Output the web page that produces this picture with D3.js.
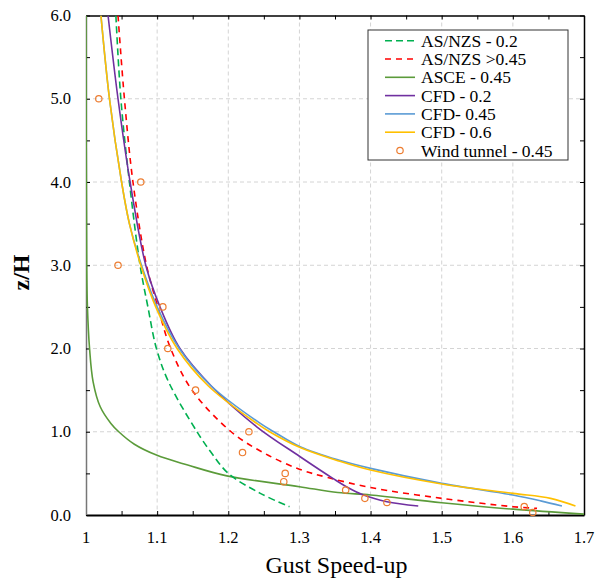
<!DOCTYPE html>
<html>
<head>
<meta charset="utf-8">
<script src="https://cdn.jsdelivr.net/npm/d3@7"></script>
<style>
  body { margin: 0; background: #fff; }
  text { font-family: "Liberation Serif", "Times New Roman", serif; }
</style>
</head>
<body>
<svg class="chart"></svg>
<script>
// series: gust speed-up (x) against z/H (y)
var asnzs02Z = [6, 5, 4, 3, 2.5, 2, 1.6, 1.0, 0.75, 0.5, 0.26, 0.1];
var asnzs02V = [1.042, 1.049, 1.061, 1.076, 1.087, 1.099, 1.116, 1.156, 1.176, 1.200, 1.245, 1.286];

var asnzs045Z = [6, 5, 4, 3, 2.5, 2, 1.5, 1.0, 0.75, 0.55, 0.45, 0.33, 0.2, 0.1, 0.08];
var asnzs045V = [1.045, 1.054, 1.066, 1.085, 1.101, 1.119, 1.149, 1.204, 1.249, 1.300, 1.340, 1.400, 1.500, 1.600, 1.634];

var asceZ = [6, 3, 2.5, 2, 1.6, 1.3, 1.1, 1.0, 0.85, 0.72, 0.6, 0.47, 0.34, 0.27, 0.24, 0.148, 0.07, 0.01];
var asceV = [1.0, 1.001, 1.002, 1.005, 1.01, 1.02, 1.035, 1.046, 1.068, 1.099, 1.143, 1.198, 1.300, 1.354, 1.400, 1.500, 1.600, 1.700];

var cfd02Z = [6, 5, 4, 3, 2.5, 2, 1.55, 1.06, 0.7, 0.44, 0.34, 0.24, 0.16, 0.108];
var cfd02V = [1.031, 1.045, 1.062, 1.084, 1.104, 1.132, 1.176, 1.240, 1.301, 1.347, 1.366, 1.390, 1.423, 1.467];

var cfd045Z = [6, 5, 4, 3.5, 3, 2.5, 2, 1.55, 1.1, 1.0, 0.82, 0.66, 0.56, 0.38, 0.24, 0.17, 0.108];
var cfd045V = [1.021, 1.033, 1.050, 1.061, 1.078, 1.100, 1.131, 1.176, 1.245, 1.264, 1.301, 1.355, 1.400, 1.500, 1.600, 1.639, 1.669];

var cfd06Z = [6, 5, 4, 3.5, 3, 2.5, 2, 1.55, 1.1, 1.0, 0.81, 0.65, 0.54, 0.373, 0.26, 0.2, 0.108];
var cfd06V = [1.021, 1.033, 1.050, 1.061, 1.077, 1.098, 1.128, 1.172, 1.240, 1.258, 1.301, 1.355, 1.400, 1.500, 1.600, 1.653, 1.688];

var tunnelZ = [5.0, 4.0, 3.0, 2.5, 2.0, 1.5, 1.0, 0.75, 0.5, 0.4, 0.3, 0.2, 0.15, 0.1, 0.03];
var tunnelV = [1.018, 1.077, 1.045, 1.108, 1.115, 1.154, 1.229, 1.220, 1.280, 1.278, 1.365, 1.392, 1.423, 1.616, 1.628];

var xTicks = [1, 1.1, 1.2, 1.3, 1.4, 1.5, 1.6, 1.7];
var yTicks = [0, 1, 2, 3, 4, 5, 6];

var width = 596, height = 581;
var plotLeft = 86, plotRight = 584, plotTop = 15.5, plotBottom = 515;

var svg = d3.select(".chart")
	.attr("width", width)
	.attr("height", height);

var x = d3.scaleLinear().domain([1, 1.7]).range([plotLeft, plotRight]);
var y = d3.scaleLinear().domain([0, 6]).range([plotBottom, plotTop]);

// grid
var grid = svg.append("g")
	.attr("stroke", "#d4d4d4")
	.attr("stroke-width", 1)
	.attr("stroke-dasharray", "4,3");

grid.selectAll("line.gx")
	.data(xTicks.slice(1, -1))
	.enter().append("line")
		.attr("class", "gx")
		.attr("x1", function(d) { return x(d); })
		.attr("x2", function(d) { return x(d); })
		.attr("y1", plotTop)
		.attr("y2", plotBottom);

grid.selectAll("line.gy")
	.data(yTicks.slice(1, -1))
	.enter().append("line")
		.attr("class", "gy")
		.attr("x1", plotLeft)
		.attr("x2", plotRight)
		.attr("y1", function(d) { return y(d); })
		.attr("y2", function(d) { return y(d); });

// axes with inward ticks
var minorX = d3.range(1, 1.7001, 0.05);
var minorY = d3.range(0, 6.001, 0.5);

svg.append("g")
	.attr("transform", "translate(0," + plotBottom + ")")
	.call(d3.axisBottom(x).tickValues(minorX).tickSize(-4).tickSizeOuter(0).tickFormat(""))
	.call(function(g) { g.select(".domain").attr("stroke-width", 2); });

svg.append("g")
	.attr("transform", "translate(0," + plotTop + ")")
	.call(d3.axisTop(x).tickValues(minorX).tickSize(-4).tickSizeOuter(0).tickFormat(""))
	.call(function(g) { g.select(".domain").attr("stroke-width", 1.5); });

svg.append("g")
	.attr("transform", "translate(" + plotLeft + ",0)")
	.call(d3.axisLeft(y).tickValues(minorY).tickSize(-4).tickSizeOuter(0).tickFormat(""))
	.call(function(g) { g.select(".domain").attr("stroke", "#777").attr("stroke-width", 1.5); });

svg.append("g")
	.attr("transform", "translate(" + plotRight + ",0)")
	.call(d3.axisRight(y).tickValues(minorY).tickSize(-4).tickSizeOuter(0).tickFormat(""))
	.call(function(g) { g.select(".domain").attr("stroke-width", 1.5); });

// tick labels
svg.append("g").selectAll("text")
	.data(xTicks)
	.enter().append("text")
		.attr("x", function(d) { return x(d); })
		.attr("y", 542.5)
		.attr("text-anchor", "middle")
		.attr("font-size", 16.5)
		.text(function(d) { return d3.format("")(d); });

svg.append("g").selectAll("text")
	.data(yTicks)
	.enter().append("text")
		.attr("x", 71)
		.attr("y", function(d) { return y(d) + 5.5; })
		.attr("text-anchor", "end")
		.attr("font-size", 16.5)
		.text(function(d) { return d3.format(".1f")(d); });

svg.append("text")
	.attr("x", 336.5)
	.attr("y", 572.5)
	.attr("text-anchor", "middle")
	.attr("font-size", 24)
	.text("Gust Speed-up");

svg.append("text")
	.attr("transform", "translate(28.5,272.5) rotate(-90)")
	.attr("text-anchor", "middle")
	.attr("font-size", 24)
	.attr("font-weight", "bold")
	.text("z/H");

// curves
svg.append("clipPath")
	.attr("id", "plot")
	.append("rect")
		.attr("x", plotLeft)
		.attr("y", plotTop)
		.attr("width", plotRight - plotLeft)
		.attr("height", plotBottom - plotTop);

var series = [
	{ name: "AS/NZS - 0.2", z: asnzs02Z, v: asnzs02V, color: "#00b050", dash: "7,4" },
	{ name: "AS/NZS >0.45", z: asnzs045Z, v: asnzs045V, color: "#ff0000", dash: "6,5" },
	{ name: "ASCE - 0.45", z: asceZ, v: asceV, color: "#5b9b3a", dash: null },
	{ name: "CFD - 0.2", z: cfd02Z, v: cfd02V, color: "#7030a0", dash: null },
	{ name: "CFD- 0.45", z: cfd045Z, v: cfd045V, color: "#5b9bd5", dash: null },
	{ name: "CFD - 0.6", z: cfd06Z, v: cfd06V, color: "#ffc000", dash: null }
];

var line = d3.line()
	.x(function(d) { return x(d[0]); })
	.y(function(d) { return y(d[1]); })
	.curve(d3.curveCatmullRom.alpha(0.5));

var drawOrder = [2, 0, 1, 3, 4, 5];

svg.append("g")
	.attr("clip-path", "url(#plot)")
	.selectAll("path")
	.data(drawOrder.map(function(i) { return series[i]; }))
	.enter().append("path")
		.attr("fill", "none")
		.attr("stroke", function(d) { return d.color; })
		.attr("stroke-width", 1.6)
		.attr("stroke-dasharray", function(d) { return d.dash; })
		.attr("d", function(d) {
			var pts = d.z.map(function(z, i) { return [d.v[i], z]; });
			pts.sort(function(a, b) { return b[1] - a[1]; });
			return line(pts);
		});

// wind tunnel points
svg.append("g")
	.selectAll("circle")
	.data(tunnelZ.map(function(z, i) { return [tunnelV[i], z]; }))
	.enter().append("circle")
		.attr("cx", function(d) { return x(d[0]); })
		.attr("cy", function(d) { return y(d[1]); })
		.attr("r", 3.2)
		.attr("fill", "none")
		.attr("stroke", "#ed7d31")
		.attr("stroke-width", 1.2);

// legend
var legend = svg.append("g");

legend.append("rect")
	.attr("x", 368)
	.attr("y", 30)
	.attr("width", 200)
	.attr("height", 130)
	.attr("fill", "#fff")
	.attr("stroke", "#333")
	.attr("stroke-width", 1);

var rowY = function(i) { return 40.7 + i * 18.3; };

var entries = legend.selectAll("g.entry")
	.data(series)
	.enter().append("g")
		.attr("class", "entry")
		.attr("transform", function(d, i) { return "translate(0," + rowY(i) + ")"; });

entries.append("line")
	.attr("x1", 385)
	.attr("x2", 415)
	.attr("stroke", function(d) { return d.color; })
	.attr("stroke-width", 1.6)
	.attr("stroke-dasharray", function(d) { return d.dash; });

entries.append("text")
	.attr("x", 421)
	.attr("y", 6)
	.attr("font-size", 17.5)
	.text(function(d) { return d.name; });

legend.append("circle")
	.attr("cx", 400)
	.attr("cy", rowY(6))
	.attr("r", 3.2)
	.attr("fill", "none")
	.attr("stroke", "#ed7d31")
	.attr("stroke-width", 1.2);

legend.append("text")
	.attr("x", 421)
	.attr("y", rowY(6) + 6)
	.attr("font-size", 17.5)
	.text("Wind tunnel - 0.45");
</script>
</body>
</html>
